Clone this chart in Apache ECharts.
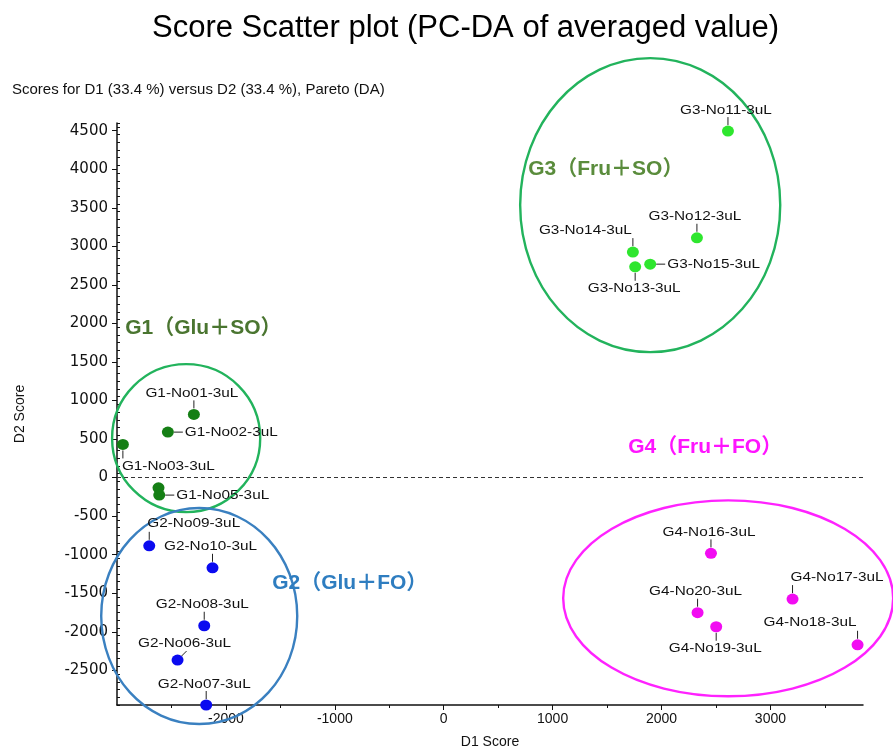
<!DOCTYPE html>
<html>
<head>
<meta charset="utf-8">
<script src="https://cdn.jsdelivr.net/npm/echarts@6/dist/echarts.min.js"></script>
<style>html,body{margin:0;padding:0;background:#fff}#c{width:893px;height:748px}</style>
</head>
<body>
<div id="c"></div>
<script>
// ---- data ----
const xTicks = [-2000, -1000, 0, 1000, 2000, 3000];
const yTicks = [-2500, -2000, -1500, -1000, -500, 0, 500, 1000, 1500, 2000, 2500, 3000, 3500, 4000, 4500];
const xMinorTicks = [-2500, -1500, -500, 500, 1500, 2500, 3500];

const g1Names = ['G1-No01-3uL', 'G1-No02-3uL', 'G1-No03-3uL', 'G1-No04-3uL', 'G1-No05-3uL'];
const g1X = [-2294, -2533, -2946, -2619, -2612];
const g1Y = [820, 590, 430, -132, -227];

const g2Names = ['G2-No06-3uL', 'G2-No07-3uL', 'G2-No08-3uL', 'G2-No09-3uL', 'G2-No10-3uL'];
const g2X = [-2444, -2181, -2199, -2704, -2123];
const g2Y = [-2367, -2950, -1922, -885, -1170];

const g3Names = ['G3-No11-3uL', 'G3-No12-3uL', 'G3-No13-3uL', 'G3-No14-3uL', 'G3-No15-3uL'];
const g3X = [2610, 2325, 1758, 1737, 1896];
const g3Y = [4495, 3111, 2735, 2925, 2769];

const g4Names = ['G4-No16-3uL', 'G4-No17-3uL', 'G4-No18-3uL', 'G4-No19-3uL', 'G4-No20-3uL'];
const g4X = [2454, 3203, 3800, 2502, 2331];
const g4Y = [-983, -1576, -2169, -1935, -1753];

const groupTitles = ['G1（Glu＋SO）', 'G2（Glu＋FO）', 'G3（Fru＋SO）', 'G4（Fru＋FO）'];

// ---- layout / style (not data) ----
const xMin = -3000, xMax = 3850, yMin = -2950, yMax = 4600;
const g1Place = ['top', 'right', 'bottomL', 'none', 'right'];
const g2Place = ['topDiag', 'top', 'top', 'topL', 'top'];
const g3Place = ['top', 'top', 'bottom', 'topR', 'right'];
const g4Place = ['top', 'topL', 'topR', 'bottom', 'top'];
// ellipse annotation: [cx, cy, rx, ry] in data units
const ellipses = [[-2365, 512, 680, 960], [-2245, -1796, 900, 1401], [1896, 3535, 1194, 1907], [2612, -1566, 1515, 1271]];
const groupTitlePos = [[-2925, 1939], [-1575, -1369], [776, 4002], [1694, 396]];
const pointColors = ['#157f15', '#0a0af0', '#2ee62e', '#f20cf2'];
const ellipseColors = ['#22b35c', '#3a80c0', '#22b35c', '#ff22ff'];
const titleColors = ['#4a7530', '#2e7dc0', '#5a8c3c', '#ff14ff'];

const groups = [
  {names: g1Names, x: g1X, y: g1Y, place: g1Place},
  {names: g2Names, x: g2X, y: g2Y, place: g2Place},
  {names: g3Names, x: g3X, y: g3Y, place: g3Place},
  {names: g4Names, x: g4X, y: g4Y, place: g4Place}
];

const LBL_FONT = '13px "Liberation Sans", Arial, sans-serif';
const SX = 1.18;

function placeSpec(p) {
  switch (p) {
    case 'top': return {dx: -2, dy: -21, align: 'center', line: [0, -6, 0, -14]};
    case 'bottom': return {dx: -1, dy: 22, align: 'center', line: [0, 6, 0, 14]};
    case 'right': return {dx: 17, dy: 0, align: 'left', line: [6, 0, 15, 0]};
    case 'topL': return {dx: -2, dy: -22, align: 'left', line: [0, -6, 0, -14]};
    case 'topR': return {dx: -1, dy: -22, align: 'right', line: [0, -6, 0, -14]};
    case 'bottomL': return {dx: -1, dy: 22, align: 'left', line: [0, 6, 0, 14]};
    case 'topDiag': return {dx: 7, dy: -17, align: 'center', line: [4, -4, 9, -9]};
  }
  return null;
}

const series = [];
groups.forEach(function (g, gi) {
  const pts = g.x.map(function (v, i) { return [v, g.y[i], g.names[i]]; });
  series.push({
    type: 'scatter',
    data: pts,
    symbol: 'circle',
    symbolSize: [12, 11],
    itemStyle: {color: pointColors[gi], opacity: 1},
    clip: true,
    z: 5,
    silent: true
  });
  series.push({
    type: 'custom',
    data: pts,
    clip: false,
    z: 6,
    silent: true,
    renderItem: function (params, api) {
      const idx = params.dataIndex;
      const spec = placeSpec(g.place[idx]);
      if (!spec) return null;
      const c = api.coord([api.value(0), api.value(1)]);
      return {
        type: 'group',
        children: [
          {type: 'line', shape: {x1: c[0] + spec.line[0], y1: c[1] + spec.line[1], x2: c[0] + spec.line[2], y2: c[1] + spec.line[3]},
            style: {stroke: '#222', lineWidth: 1}},
          {type: 'text', x: c[0] + spec.dx, y: c[1] + spec.dy, scaleX: SX,
            style: {text: g.names[idx], font: LBL_FONT, fill: '#111', align: spec.align, verticalAlign: 'middle'}}
        ]
      };
    }
  });
});

// ellipse annotations
series.push({
  type: 'custom',
  data: ellipses.map(function (e, i) { return e.concat([i]); }),
  clip: false,
  z: 3,
  silent: true,
  renderItem: function (params, api) {
    const c = api.coord([api.value(0), api.value(1)]);
    const s = api.size([api.value(2), api.value(3)]);
    return {type: 'ellipse', shape: {cx: c[0], cy: c[1], rx: s[0], ry: s[1]},
      style: {fill: 'none', stroke: ellipseColors[params.dataIndex], lineWidth: 2.4}};
  }
});
// group titles
series.push({
  type: 'custom',
  data: groupTitlePos.map(function (p, i) { return [p[0], p[1], groupTitles[i]]; }),
  clip: false,
  z: 4,
  silent: true,
  renderItem: function (params, api) {
    const c = api.coord([api.value(0), api.value(1)]);
    return {type: 'text', x: c[0], y: c[1],
      style: {text: groupTitles[params.dataIndex], font: 'bold 21px "Liberation Sans", "Noto Sans CJK JP", sans-serif',
        fill: titleColors[params.dataIndex], align: 'left', verticalAlign: 'middle'}};
  }
});
// zero lines
series.push({
  type: 'custom',
  data: [],
  clip: false,
  silent: true,
  renderItem: function () { return null; },
  markLine: {
    silent: true,
    symbol: 'none',
    label: {show: false},
    lineStyle: {color: '#333', type: [4, 3], width: 1},
    data: [
      [{coord: [0, yMax + 210]}, {coord: [0, yMin]}],
      [{coord: [xMin, 0]}, {coord: [xMax, 0]}]
    ]
  }
});

const plain = function (v) { return String(v); };

const chart = echarts.init(document.getElementById('c'), null, {renderer: 'canvas'});
chart.setOption({
  animation: false,
  backgroundColor: '#fff',
  title: [
    {text: 'Score Scatter plot (PC-DA of averaged value)', left: 152, top: 13, padding: 0,
      textStyle: {fontFamily: '"Liberation Sans", Arial, sans-serif', fontSize: 31, fontWeight: 'normal', color: '#000'}},
    {text: 'Scores for D1 (33.4 %) versus D2 (33.4 %), Pareto (DA)', left: 12, top: 82, padding: 0,
      textStyle: {fontFamily: '"Liberation Sans", Arial, sans-serif', fontSize: 15, fontWeight: 'normal', color: '#111'}}
  ],
  grid: {left: 117, right: 30, top: 123, bottom: 43, containLabel: false, outerBoundsMode: 'none'},
  xAxis: [
    {type: 'value', min: xMin, max: xMax, position: 'bottom',
      name: 'D1 Score', nameLocation: 'middle', nameGap: 30,
      nameTextStyle: {fontFamily: '"Liberation Sans", Arial, sans-serif', fontSize: 14, color: '#111'},
      axisLine: {show: true, onZero: false, lineStyle: {color: '#111', width: 1.5}},
      axisTick: {show: true, length: 5, customValues: xTicks, lineStyle: {color: '#111'}},
      axisLabel: {customValues: xTicks, formatter: plain, fontFamily: '"Liberation Sans", Arial, sans-serif', fontSize: 14, color: '#111', margin: 7},
      splitLine: {show: false}},
    {type: 'value', min: xMin, max: xMax, position: 'bottom', gridIndex: 0,
      axisLine: {show: false, onZero: false},
      axisTick: {show: true, length: 3, customValues: xMinorTicks, lineStyle: {color: '#111'}},
      axisLabel: {show: false}, splitLine: {show: false}}
  ],
  yAxis: [
    {type: 'value', min: yMin, max: yMax, position: 'left',
      name: 'D2 Score', nameLocation: 'middle', nameGap: 90, nameRotate: 90,
      nameTextStyle: {fontFamily: '"Liberation Sans", Arial, sans-serif', fontSize: 14, color: '#111'},
      axisLine: {show: true, onZero: false, lineStyle: {color: '#111', width: 1.5}},
      axisTick: {show: true, length: 5, customValues: yTicks, lineStyle: {color: '#111'}},
      axisLabel: {customValues: yTicks, formatter: plain, fontFamily: '"DejaVu Sans", sans-serif', fontSize: 15, color: '#111', margin: 9},
      splitLine: {show: false}},
    {type: 'value', min: yMin, max: yMax, position: 'left', gridIndex: 0,
      axisLine: {show: false, onZero: false},
      axisTick: {show: true, inside: true, length: 3, lineStyle: {color: '#111'}},
      minorTick: {show: false},
      interval: 100,
      axisLabel: {show: false}, splitLine: {show: false}}
  ],
  series: series
});
</script>
</body>
</html>
